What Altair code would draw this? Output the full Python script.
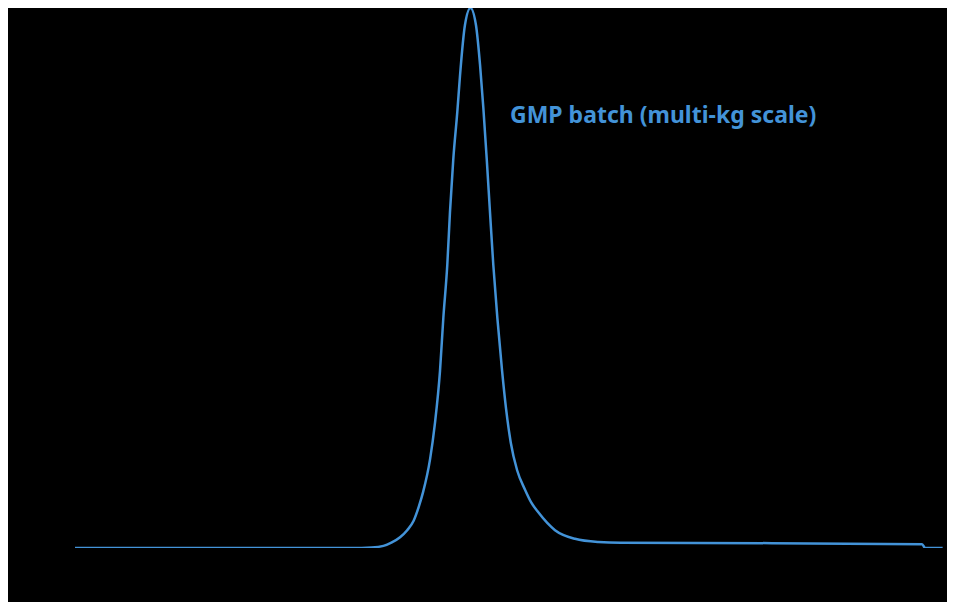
import altair as alt
import pandas as pd

# Chromatogram trace (retention time in min, absorbance normalised to peak = 100)
time_min = [0.0, 1.0, 2.0, 3.0, 3.5, 3.75, 3.9, 4.0, 4.11, 4.2, 4.28, 4.35, 4.40,
            4.49, 4.55, 4.615, 4.657, 4.707, 4.741, 4.783, 4.834, 4.868, 4.93, 5.0,
            5.07, 5.121, 5.163, 5.206, 5.247, 5.289, 5.34, 5.40, 5.45, 5.51, 5.59,
            5.69, 5.77, 5.858, 6.069, 6.322, 6.617, 6.9, 8.81, 10.71, 10.75, 10.97]
absorbance = [0.0, 0.0, 0.0, 0.0, 0.0, 0.1, 0.4, 1.0, 2.0, 3.3, 5.0, 7.8, 10.3,
              16.5, 23.0, 32.8, 42.6, 52.4, 62.2, 72.0, 80.8, 87.5, 96.8, 100.0,
              96.8, 89.5, 81.5, 72.0, 62.2, 52.4, 42.6, 32.8, 25.8, 19.5, 14.4,
              10.8, 8.4, 6.6, 3.3, 1.7, 1.1, 0.95, 0.9, 0.7, 0.0, 0.0]

label_text = ["GMP batch (multi-kg scale)"]
label_time = [5.5]
label_abs = [78.7]

x_ticks = [0, 1, 2, 3, 4, 5, 6, 7, 8, 9, 10, 11]
y_ticks = [0, 20, 40, 60, 80]

BLUE = "#4393d8"

trace = pd.DataFrame({"time": time_min, "abs": absorbance})
labels = pd.DataFrame({"time": label_time, "abs": label_abs, "text": label_text})

x_enc = alt.X("time:Q", scale=alt.Scale(domain=[0, 11], nice=False),
              axis=alt.Axis(title="Retention time (min)", grid=False, values=x_ticks,
                            titlePadding=10))
y_enc = alt.Y("abs:Q", scale=alt.Scale(domain=[0, 100], nice=False),
              axis=alt.Axis(title="Absorbance (mAU)", grid=False, values=y_ticks))

line = alt.Chart(trace).mark_line(color=BLUE, strokeWidth=2.5, clip=True,
                                  interpolate="monotone").encode(x=x_enc, y=y_enc)

text = alt.Chart(labels).mark_text(color=BLUE, font="Noto Sans", fontSize=23,
                                   fontWeight="bold", align="left",
                                   baseline="alphabetic").encode(
    x="time:Q", y="abs:Q", text="text:N")

chart = (line + text).properties(
    width=870, height=540,
    autosize=alt.AutoSizeParams(type="none"),
    padding={"left": 67, "top": 0, "right": 2, "bottom": 54},
    background="black",
).configure_view(stroke=None).configure_axis(
    domainColor="black", tickColor="black", labelColor="black", titleColor="black",
    labelFont="Noto Sans", titleFont="Noto Sans", labelFontSize=12, titleFontSize=13,
)

chart.save("out.html", embed_options={"renderer": "svg", "actions": False})
